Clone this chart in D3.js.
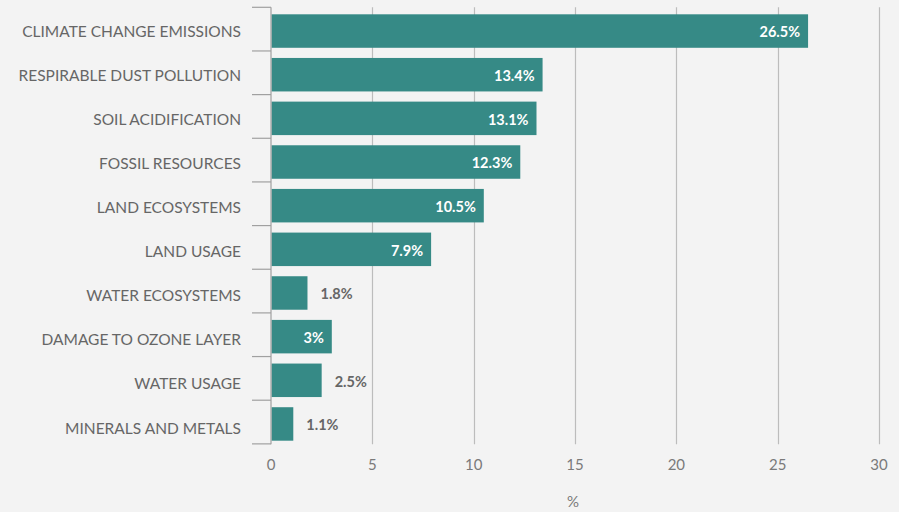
<!DOCTYPE html>
<html><head><meta charset="utf-8">
<script src="https://cdn.jsdelivr.net/npm/d3@7"></script>
<style>
html,body{margin:0;padding:0;background:#f3f3f3;}
svg{display:block;font-family:Lato,"Open Sans",sans-serif;}
</style></head>
<body><svg id="c" width="899" height="512"></svg>
<script>
const categories = ["CLIMATE CHANGE EMISSIONS","RESPIRABLE DUST POLLUTION","SOIL ACIDIFICATION","FOSSIL RESOURCES","LAND ECOSYSTEMS","LAND USAGE","WATER ECOSYSTEMS","DAMAGE TO OZONE LAYER","WATER USAGE","MINERALS AND METALS"];
const values = [26.5,13.4,13.1,12.3,10.5,7.9,1.8,3,2.5,1.1];
const xTicks = [0,5,10,15,20,25,30];
const axisTitle = "%";

(function(){
const svg = d3.select("#c");
const mLeft = 271, mRight = 879, mTop = 7.3, mBottom = 444.3;
const x = d3.scaleLinear().domain([0,30]).range([mLeft,mRight]);
const y = d3.scaleBand().domain(categories).range([14.3,440.7]).paddingInner(0.233).paddingOuter(0);
const yLab = d3.scalePoint().domain(categories).range([31,428]);
const step = y.step();

// gridlines
svg.append("g").selectAll("line").data(xTicks.filter(d=>d>0)).join("line")
  .attr("x1",d=>Math.round(x(d))+0.5).attr("x2",d=>Math.round(x(d))+0.5).attr("y1",mTop).attr("y2",mBottom)
  .attr("stroke","#bcbcbc").attr("stroke-width",1.2);

// x tick labels
svg.append("g").selectAll("text").data(xTicks).join("text")
  .attr("x",d=>x(d)).attr("y",469.5).attr("text-anchor","middle")
  .attr("fill","#7a7a7a").attr("font-size",15).text(d=>d);

svg.append("text").attr("x",(mLeft+mRight)/2-2).attr("y",507).attr("text-anchor","middle")
  .attr("fill","#7a7a7a").attr("font-size",15).text(axisTitle);

// bars
svg.append("g").selectAll("rect").data(values).join("rect")
  .attr("x",x(0)+0.5).attr("y",(d,i)=>y(categories[i]))
  .attr("width",d=>x(d)-x(0)-0.5).attr("height",y.bandwidth())
  .attr("fill","#368a86");

// left axis
const ag = svg.append("g").attr("stroke","#a0a0a0").attr("stroke-width",1.2);
ag.append("line").attr("x1",mLeft).attr("x2",mLeft).attr("y1",mTop).attr("y2",mBottom);
const bounds = d3.range(categories.length+1).map(i=>mTop+i*step);
ag.selectAll("line.t").data(bounds).join("line").attr("class","t")
  .attr("x1",252).attr("x2",mLeft).attr("y1",d=>d).attr("y2",d=>d);

// category labels
svg.append("g").selectAll("text").data(categories).join("text")
  .attr("x",241).attr("y",d=>yLab(d)).attr("dy","0.36em")
  .attr("text-anchor","end").attr("fill","#666").attr("font-size",15.5).text(d=>d);

// value labels
svg.append("g").selectAll("text").data(values).join("text")
  .attr("y",(d,i)=>y(categories[i])+y.bandwidth()/2+1).attr("dy","0.36em")
  .attr("font-size",14.5).attr("font-weight",700)
  .each(function(d){
    const t = d3.select(this).text(d+"%");
    const w = this.getComputedTextLength();
    const bw = x(d)-x(0);
    if (bw - w >= 28) {
      t.attr("x",x(d)-8).attr("text-anchor","end").attr("fill","#ffffff");
    } else {
      t.attr("x",x(d)+13).attr("text-anchor","start").attr("fill","#666");
    }
  });
})();
</script></body></html>
